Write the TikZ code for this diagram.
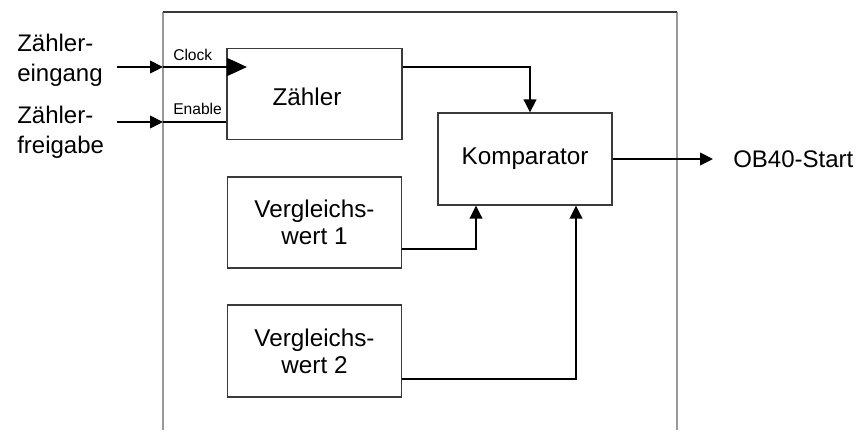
\documentclass[tikz,border=0pt]{standalone}
\usepackage{fontspec}
\setmainfont{Liberation Sans}
\usetikzlibrary{arrows.meta}
\definecolor{frame}{HTML}{999999}
\definecolor{boxline}{HTML}{3A3A3A}
\tikzset{
  box/.style={draw=boxline, line width=0.8pt, inner sep=0pt, align=center,
    font=\fontsize{18.2}{20.3}\selectfont},
  bigtext/.style={inner sep=0pt, align=left, font=\fontsize{18}{22.5}\selectfont},
  smalltext/.style={inner sep=0pt, anchor=base west, font=\fontsize{11.7}{14}\selectfont},
  conn/.style={line width=1.1pt, black},
  arr/.style={conn, -{Triangle[length=9.75pt,width=9.5pt]}},
  bigarr/.style={conn, -{Triangle[length=15pt,width=13.5pt]}}
}
\begin{document}
\begin{tikzpicture}[x=0.75pt,y=-0.75pt]
\useasboundingbox (0,0) rectangle (857,430);
% outer frame (open at bottom)
\draw[frame, line width=1.3pt] (163,430) -- (163,12);
\draw[frame, line width=1.3pt] (677,12) -- (677,430);
\draw[boxline, line width=1.1pt] (163,12) -- (677,12);

% blocks
\node[box, minimum width=131.25pt, minimum height=68.25pt] (zaehler) at (314.5,94) {};
\node[inner sep=0pt, font=\fontsize{18.2}{20.3}\selectfont] (zaehlerlab) at (307,97) {Zähler};
\node[box, minimum width=130.5pt, minimum height=69pt] (komp) at (525,159) {Komparator};
\node[box, minimum width=130.5pt, minimum height=68.25pt] (v1) at (314.5,222.5) {Vergleichs-\\wert 1};
\node[box, minimum width=130.5pt, minimum height=69pt] (v2) at (314.5,351) {Vergleichs-\\wert 2};

% left labels
\node[bigtext, anchor=north west] (lab1) at (17,33.5) {Zähler-\\eingang};
\node[bigtext, anchor=north west] (lab2) at (17,105.5) {Zähler-\\freigabe};
\node[smalltext] (clocklab) at (173,60) {Clock};
\node[smalltext] (enablelab) at (173,114) {Enable};

% input connectors
\coordinate (in1) at (117,67);
\coordinate (b1) at (163,67);
\coordinate (clk) at (247,67);
\coordinate (in2) at (117,122);
\coordinate (b2) at (163,122);
\draw[arr] (in1) -- (b1);
\draw[bigarr] (b1) -- (clk);
\draw[arr] (in2) -- (b2);
\draw[conn] (b2) -- (zaehler.west |- b2);

% Zähler -> Komparator
\coordinate (zk) at (530,67);
\draw[arr] (zaehler.east |- zk) -- (zk) -- (zk |- komp.north);

% Vergleichswert 1 -> Komparator
\coordinate (c1) at (476,249);
\draw[arr] (v1.east |- c1) -- (c1) -- (c1 |- komp.south);

% Vergleichswert 2 -> Komparator
\coordinate (c2) at (576,379);
\draw[arr] (v2.east |- c2) -- (c2) -- (c2 |- komp.south);

% output
\node[bigtext, anchor=west] (out) at (733,159) {OB40-Start};
\coordinate (outtip) at (713,159);
\draw[arr] (komp.east) -- (outtip);
\end{tikzpicture}
\end{document}
